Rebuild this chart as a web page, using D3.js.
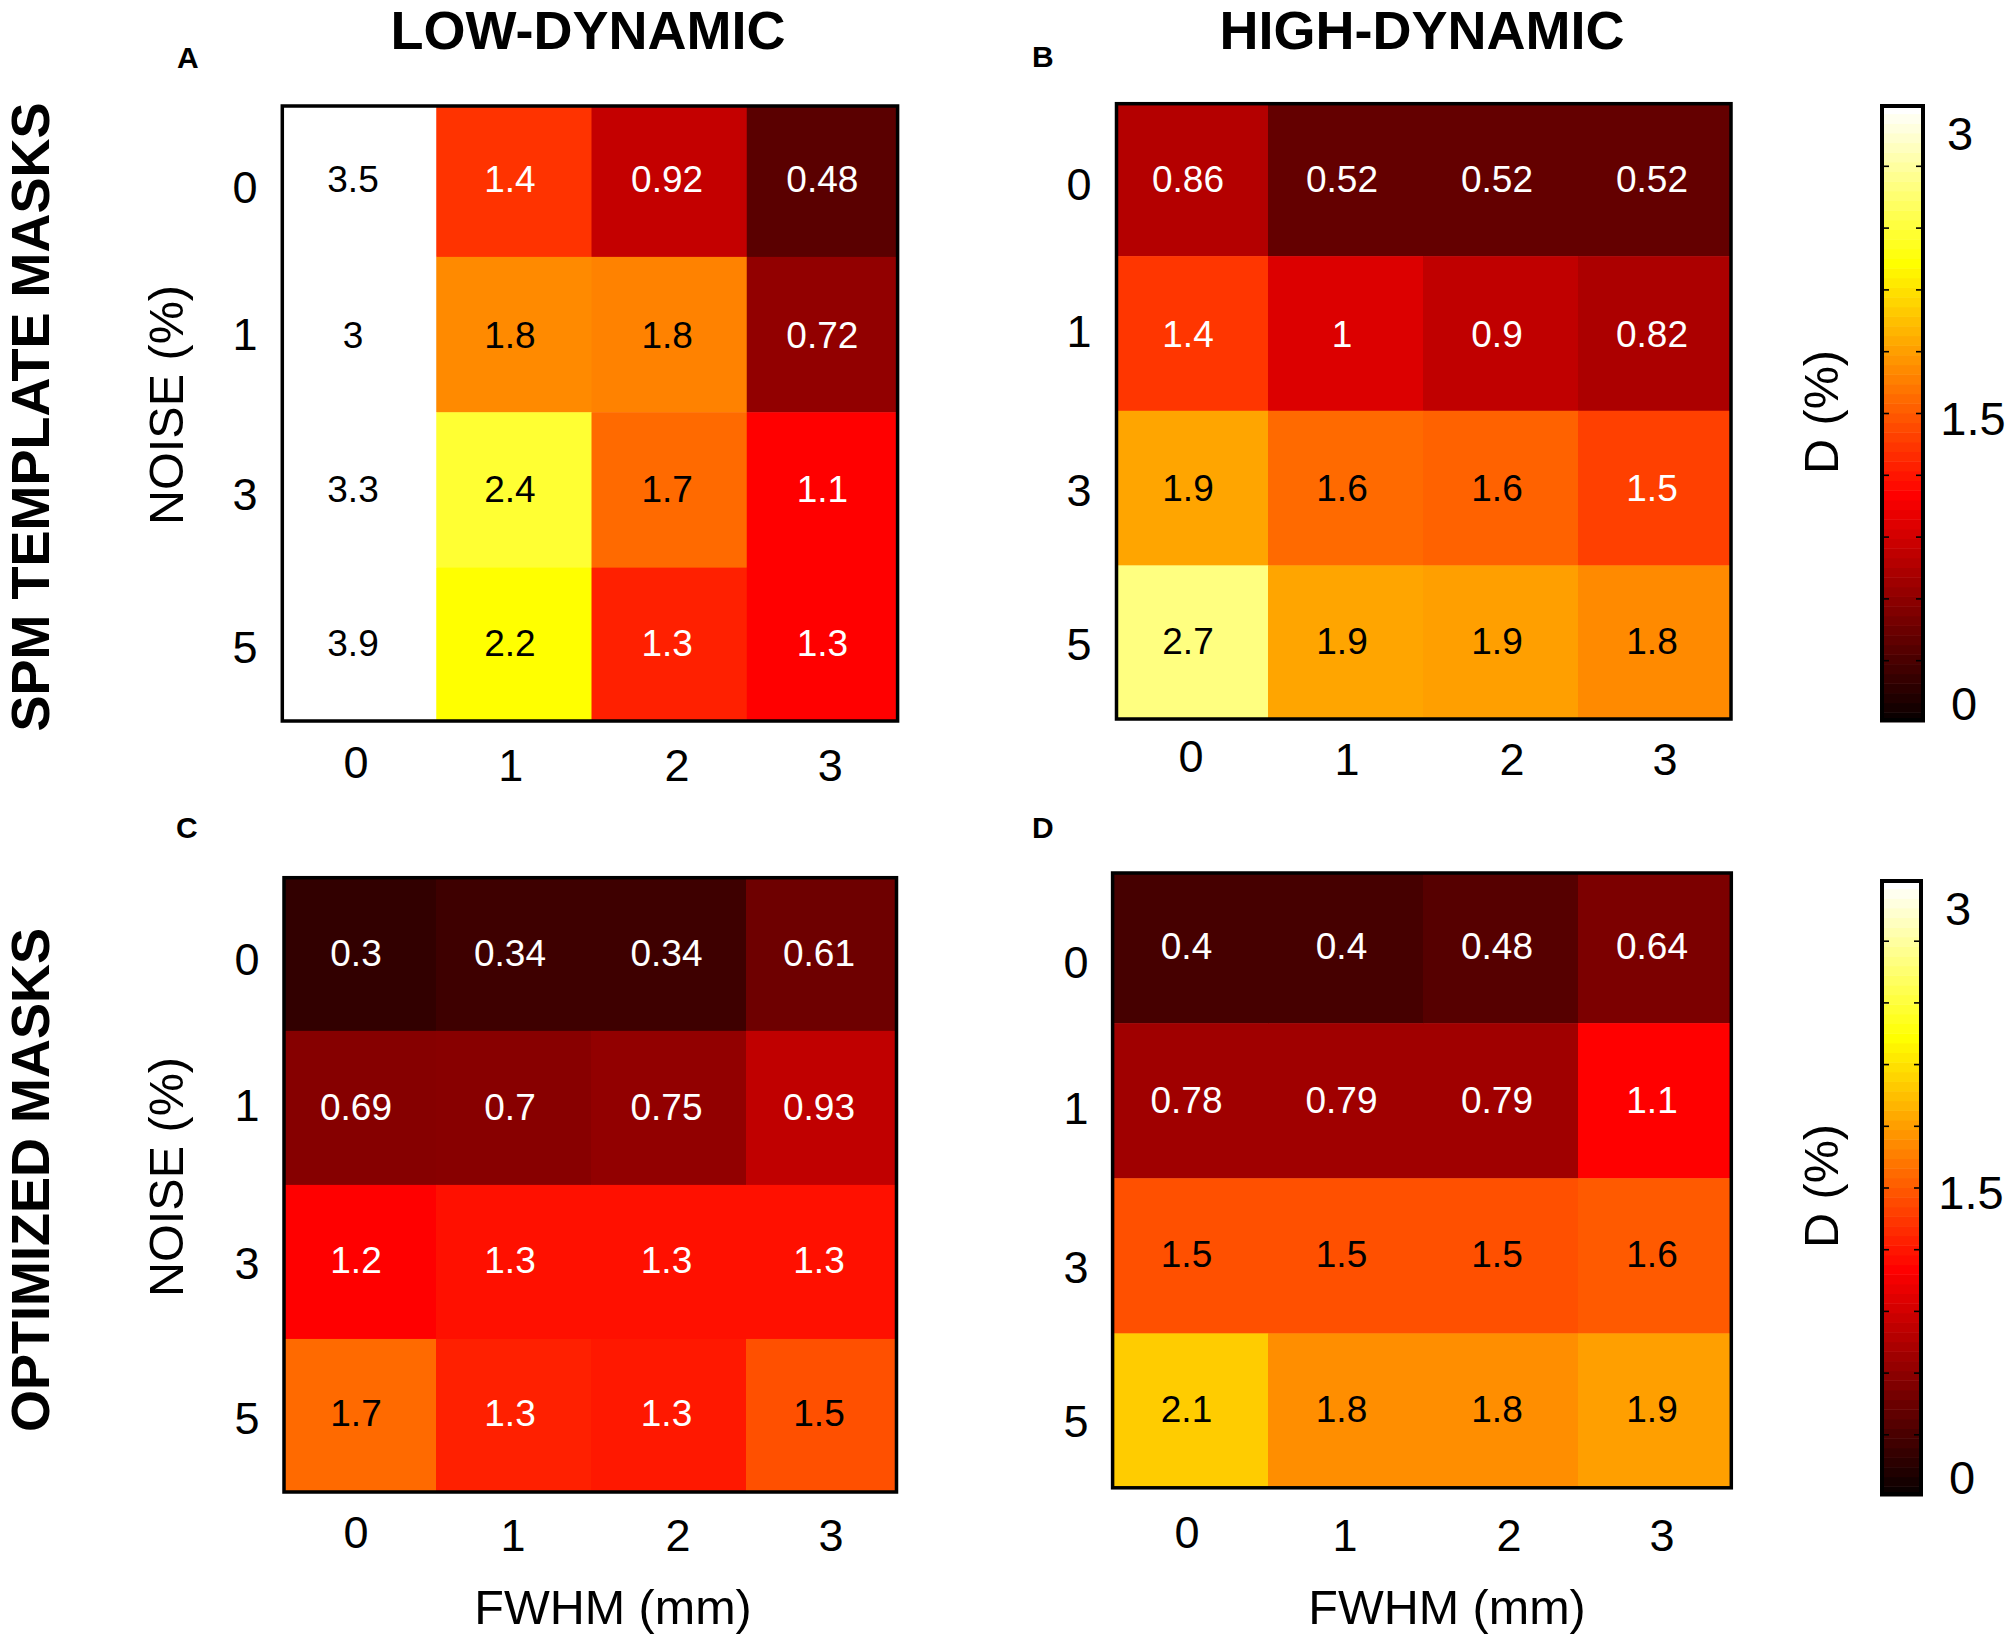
<!DOCTYPE html>
<html>
<head>
<meta charset="utf-8">
<script src="https://cdn.jsdelivr.net/npm/d3@7"></script>
<style>
  body { margin: 0; background: #fff; }
  text { font-family: "Liberation Sans", Arial, sans-serif; fill: #000; }
</style>
</head>
<body>
<div id="chart"></div>
<script>
var fwhm = ["0", "1", "2", "3"];
var noise = ["0", "1", "3", "5"];

// printed numbers, row by row (noise), col by col (fwhm)
var valuesA = [3.5, 1.4, 0.92, 0.48, 3, 1.8, 1.8, 0.72, 3.3, 2.4, 1.7, 1.1, 3.9, 2.2, 1.3, 1.3];
var valuesB = [0.86, 0.52, 0.52, 0.52, 1.4, 1, 0.9, 0.82, 1.9, 1.6, 1.6, 1.5, 2.7, 1.9, 1.9, 1.8];
var valuesC = [0.3, 0.34, 0.34, 0.61, 0.69, 0.7, 0.75, 0.93, 1.2, 1.3, 1.3, 1.3, 1.7, 1.3, 1.3, 1.5];
var valuesD = [0.4, 0.4, 0.48, 0.64, 0.78, 0.79, 0.79, 1.1, 1.5, 1.5, 1.5, 1.6, 2.1, 1.8, 1.8, 1.9];

var levelsA = [3, 1.35, 0.865, 0.397, 3, 1.734, 1.699, 0.644, 3, 2.4, 1.593, 1.125, 3, 2.25, 1.266, 1.125];
var levelsB = [0.794, 0.441, 0.441, 0.441, 1.363, 0.971, 0.847, 0.759, 1.853, 1.593, 1.557, 1.406, 2.625, 1.853, 1.827, 1.734];
var levelsC = [0.221, 0.274, 0.274, 0.485, 0.591, 0.6, 0.644, 0.847, 1.125, 1.196, 1.196, 1.196, 1.593, 1.266, 1.231, 1.478];
var levelsD = [0.309, 0.309, 0.379, 0.547, 0.706, 0.706, 0.706, 1.125, 1.478, 1.478, 1.478, 1.522, 2.025, 1.752, 1.752, 1.827];

var barLabels = [0, 1.5, 3];
var barTicks = [0.3, 0.6, 0.9, 1.2, 1.5, 1.8, 2.1, 2.4, 2.7];

var svg = d3.select("#chart")
  .append("svg")
  .attr("width", 2010)
  .attr("height", 1641);

var defs = svg.append("defs");

// same as matlab hot
var heat = d3.scaleLinear()
  .domain([0, 1.125, 2.25, 3])
  .range(["#000000", "#ff0000", "#ffff00", "#ffffff"])
  .clamp(true);

function drawPanel(p) {
  // the image runs a little past the frame, the frame crops it
  var x = d3.scaleBand().domain(fwhm).range([p.cellLeft, p.cellRight]);
  var y = d3.scaleBand().domain(noise).range([p.cellTop, p.cellBottom]);
  var cells = [];
  noise.forEach(function (n, r) {
    fwhm.forEach(function (f, c) {
      var k = r * fwhm.length + c;
      cells.push({ noise: n, fwhm: f, value: p.values[k], level: p.levels[k], row: r, col: c });
    });
  });

  defs.append("clipPath")
    .attr("id", "clip" + p.letter)
    .append("rect")
    .attr("x", p.left)
    .attr("y", p.top)
    .attr("width", p.right - p.left)
    .attr("height", p.bottom - p.top);

  var g = svg.append("g");

  g.append("g")
    .attr("clip-path", "url(#clip" + p.letter + ")")
    .selectAll("rect")
    .data(cells)
    .enter()
    .append("rect")
    .attr("x", function (d) { return x(d.fwhm); })
    .attr("y", function (d) { return y(d.noise); })
    .attr("width", x.bandwidth() + 0.5)
    .attr("height", y.bandwidth() + 0.5)
    .attr("fill", function (d) { return heat(d.level); });

  g.selectAll("text.num")
    .data(cells)
    .enter()
    .append("text")
    .attr("class", "num")
    .attr("x", function (d) { return x(d.fwhm) + x.bandwidth() / 2 + p.numDx[d.col]; })
    .attr("y", function (d) { return y(d.noise) + y.bandwidth() / 2 + p.numDy[d.row]; })
    .attr("dy", "0.35em")
    .attr("text-anchor", "middle")
    .style("font-size", "37px")
    .style("fill", function (d) { return d.level < 1.44 ? "#fff" : "#000"; })
    .text(function (d) { return d.value; });

  g.append("rect")
    .attr("x", p.left)
    .attr("y", p.top)
    .attr("width", p.right - p.left)
    .attr("height", p.bottom - p.top)
    .attr("fill", "none")
    .attr("stroke", "#000")
    .attr("stroke-width", 3.5);

  var xAxis = g.append("g")
    .attr("transform", "translate(0," + p.xLabelY + ")")
    .call(d3.axisBottom(x).tickSize(0));
  xAxis.select(".domain").remove();
  xAxis.selectAll("text")
    .attr("x", function (d, i) { return p.xNudge[i]; })
    .attr("y", function (d, i) { return i == 0 ? -3 : 0; })
    .attr("dy", "0.35em")
    .style("font-size", "45px");

  var yAxis = g.append("g")
    .attr("transform", "translate(" + p.yLabelX + ",0)")
    .call(d3.axisLeft(y).tickSize(0));
  yAxis.select(".domain").remove();
  yAxis.selectAll("text")
    .attr("x", 0)
    .attr("y", function (d, i) { return p.yNudge[i]; })
    .attr("dy", "0.35em")
    .attr("text-anchor", "middle")
    .style("font-size", "45px");

  svg.append("text")
    .attr("x", p.letterX)
    .attr("y", p.letterY)
    .style("font-size", "30px")
    .style("font-weight", "bold")
    .text(p.letter);
}

function drawBar(b) {
  var s = d3.scaleLinear().domain([0, 3]).range([b.bottom, b.top]);
  var steps = d3.range(64);
  var h = (b.bottom - b.top) / steps.length;

  svg.selectAll("rect.band" + b.top)
    .data(steps)
    .enter()
    .append("rect")
    .attr("class", "band" + b.top)
    .attr("x", b.left)
    .attr("y", function (d) { return s((d + 1) / steps.length * 3); })
    .attr("width", b.right - b.left)
    .attr("height", h + 0.5)
    .attr("fill", function (d) { return heat((d + 1) / steps.length * 3); });

  var ticksL = svg.append("g")
    .attr("transform", "translate(" + b.left + ",0)")
    .call(d3.axisRight(s).tickValues(barTicks).tickSize(9).tickFormat(""));
  var ticksR = svg.append("g")
    .attr("transform", "translate(" + b.right + ",0)")
    .call(d3.axisLeft(s).tickValues(barTicks).tickSize(9).tickFormat(""));
  ticksL.select(".domain").remove();
  ticksR.select(".domain").remove();
  svg.selectAll(".tick line").attr("stroke", "#000").attr("stroke-width", 1.6);

  svg.append("rect")
    .attr("x", b.left + 2)
    .attr("y", b.top + 2)
    .attr("width", b.right - b.left - 4)
    .attr("height", b.bottom - b.top - 4)
    .attr("fill", "none")
    .attr("stroke", "#000")
    .attr("stroke-width", 4);

  var labels = svg.append("g")
    .attr("transform", "translate(" + b.right + ",0)")
    .call(d3.axisRight(s).tickValues(barLabels).tickSize(0).tickFormat(function (d) { return d; }));
  labels.select(".domain").remove();
  labels.selectAll("text")
    .attr("x", function (d, i) { return [39, 48, 35][i]; })
    .attr("y", function (d, i) { return [-19, 5, 29][i]; })
    .attr("dy", "0.35em")
    .attr("text-anchor", "middle")
    .style("font-size", "47px");
}

function sideText(str, x, y, size, weight) {
  svg.append("text")
    .attr("transform", "translate(" + x + "," + y + ") rotate(-90)")
    .attr("text-anchor", "middle")
    .style("font-size", size + "px")
    .style("font-weight", weight)
    .text(str);
}

function flatText(str, x, y, size, weight) {
  svg.append("text")
    .attr("x", x)
    .attr("y", y)
    .attr("text-anchor", "middle")
    .style("font-size", size + "px")
    .style("font-weight", weight)
    .text(str);
}

drawPanel({
  letter: "A", letterX: 177, letterY: 68, values: valuesA, levels: levelsA,
  left: 282.3, right: 897.6, top: 106, bottom: 721,
  cellLeft: 281, cellRight: 902, cellTop: 101.5, cellBottom: 723,
  xLabelY: 765, yLabelX: 245,
  xNudge: [-2.6, -3, 8, 6], yNudge: [8, 0, 4.3, 2],
  numDx: [-5.6, -4, -2, -2], numDy: [0, 0, -1, -2]
});
drawPanel({
  letter: "B", letterX: 1032, letterY: 67, values: valuesB, levels: levelsB,
  left: 1116.5, right: 1731, top: 103.7, bottom: 719,
  cellLeft: 1113, cellRight: 1733, cellTop: 101.5, cellBottom: 720,
  xLabelY: 759, yLabelX: 1079,
  xNudge: [0.5, 1.5, 11.5, 9.5], yNudge: [5, -2.4, 2.6, 1.3],
  numDx: [-2.5, -3.5, -3.5, -3.5], numDy: [0, 0.5, -0.5, -2]
});
drawPanel({
  letter: "C", letterX: 176, letterY: 838, values: valuesC, levels: levelsC,
  left: 284, right: 896.5, top: 877.7, bottom: 1492,
  cellLeft: 281, cellRight: 901, cellTop: 876.8, cellBottom: 1493,
  xLabelY: 1535, yLabelX: 247,
  xNudge: [-2.5, -0.5, 9.5, 7.5], yNudge: [5, -3, 1.5, 2],
  numDx: [-2.5, -3.5, -2, -4.5], numDy: [-1, -1.3, -2, -2.5]
});
drawPanel({
  letter: "D", letterX: 1032, letterY: 838, values: valuesD, levels: levelsD,
  left: 1112.6, right: 1731.3, top: 873, bottom: 1487.8,
  cellLeft: 1113, cellRight: 1733, cellTop: 868, cellBottom: 1488.5,
  xLabelY: 1535, yLabelX: 1076,
  xNudge: [-3.5, -0.5, 8.5, 6.5], yNudge: [16.4, 7.3, 11.2, 10.6],
  numDx: [-4, -4, -3.5, -3.5], numDy: [0, -1, -2, -1.5]
});

drawBar({ left: 1880, right: 1925, top: 104, bottom: 722 });
drawBar({ left: 1880, right: 1923, top: 879, bottom: 1496 });

flatText("LOW-DYNAMIC", 588, 49, 54, "bold");
flatText("HIGH-DYNAMIC", 1422, 49, 54, "bold");
sideText("SPM TEMPLATE MASKS", 49, 417, 54, "bold");
sideText("OPTIMIZED MASKS", 49, 1180, 54, "bold");
sideText("NOISE (%)", 183, 405, 48.5, "normal");
sideText("NOISE (%)", 183, 1177, 48.5, "normal");
flatText("FWHM (mm)", 613, 1624, 48.5, "normal");
flatText("FWHM (mm)", 1447, 1624, 48.5, "normal");
sideText("D (%)", 1838, 412, 48.5, "normal");
sideText("D (%)", 1838, 1186, 48.5, "normal");
</script>
</body>
</html>
